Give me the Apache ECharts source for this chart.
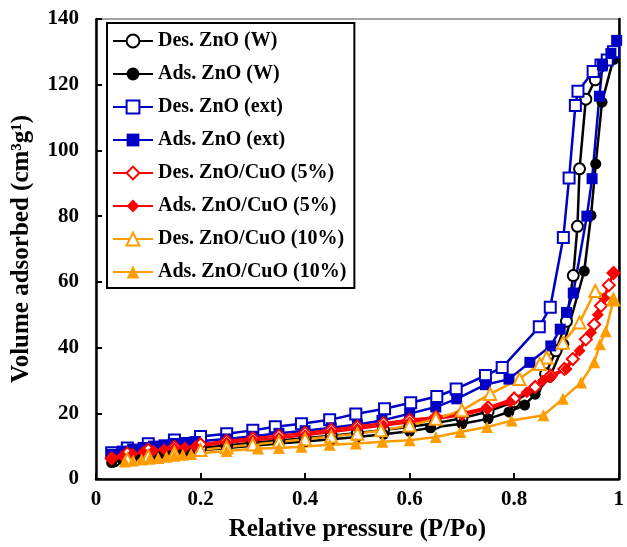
<!DOCTYPE html>
<html>
<head>
<meta charset="utf-8">
<script src="https://cdn.jsdelivr.net/npm/echarts@6/dist/echarts.min.js"></script>
<style>
  html, body { margin: 0; padding: 0; background: #fff; }
  #chart { width: 627px; height: 547px; }
</style>
</head>
<body>
<div id="chart"></div>
<script>
// N2 sorption isotherms: [relative pressure P/Po, volume adsorbed cm3/g]
const desZnOW = [[0.99,128],[0.955,121.5],[0.937,115.6],[0.925,94.4],[0.921,76.9],[0.913,61.9],[0.90,48],[0.88,39],[0.86,32],[0.84,27.5],[0.80,23.5],[0.75,20.5],[0.70,18.5],[0.65,17],[0.60,15.9],[0.55,14.9],[0.50,14],[0.45,13.2],[0.40,12.4],[0.35,11.7],[0.30,11],[0.25,10.2],[0.20,9.4],[0.15,8.6],[0.10,7.6],[0.06,6.6],[0.035,5.5]];
const adsZnOW = [[0.03,5.0],[0.05,5.9],[0.07,6.5],[0.09,7.0],[0.11,7.4],[0.13,7.7],[0.15,8.0],[0.17,8.3],[0.19,8.6],[0.25,9.4],[0.30,10.1],[0.35,10.8],[0.40,11.4],[0.45,12.1],[0.50,12.8],[0.55,13.6],[0.60,14.5],[0.64,15.6],[0.70,16.8],[0.75,18.3],[0.79,20.4],[0.82,22.5],[0.84,25.8],[0.868,31.0],[0.895,41],[0.934,63.3],[0.947,80.2],[0.956,95.9],[0.968,114.7],[0.99,128]];
const desZnOExt = [[0.99,130],[0.978,127.5],[0.966,126],[0.951,124],[0.922,118],[0.917,113.7],[0.905,91.6],[0.894,73.5],[0.869,52.3],[0.848,46.3],[0.777,33.9],[0.745,31.5],[0.689,27.4],[0.652,25.1],[0.602,23.2],[0.552,21.4],[0.497,19.8],[0.447,18],[0.393,16.8],[0.343,15.9],[0.30,14.8],[0.25,13.8],[0.20,12.9],[0.15,11.9],[0.10,10.7],[0.06,9.4],[0.03,8.0]];
const adsZnOExt = [[0.03,7.5],[0.05,8.5],[0.07,9.1],[0.09,9.6],[0.11,10.0],[0.13,10.4],[0.15,10.8],[0.17,11.1],[0.19,11.4],[0.25,12.2],[0.30,13.0],[0.35,13.9],[0.40,14.7],[0.45,15.6],[0.50,16.6],[0.547,17.8],[0.60,19.9],[0.65,21.9],[0.69,24.4],[0.745,28.7],[0.79,30.4],[0.83,35.5],[0.87,40.5],[0.888,45.6],[0.90,50.7],[0.913,56.6],[0.939,80],[0.949,91.4],[0.963,116.5],[0.969,126],[0.985,129.5],[0.996,133.5]];
const desCu5 = [[0.99,62.7],[0.981,59],[0.966,52.7],[0.953,47],[0.937,42.5],[0.912,36.5],[0.896,33.5],[0.87,31.5],[0.84,28],[0.80,24.5],[0.75,21.8],[0.70,20],[0.65,18.8],[0.60,18],[0.55,17],[0.50,16],[0.45,15],[0.40,14],[0.35,13.2],[0.30,12.4],[0.25,11.6],[0.20,10.6],[0.15,9.8],[0.10,8.9],[0.06,7.8],[0.03,6.3]];
const adsCu5 = [[0.03,6.0],[0.05,7.0],[0.07,7.7],[0.09,8.2],[0.11,8.6],[0.13,9.0],[0.15,9.3],[0.17,9.6],[0.19,9.9],[0.25,11.0],[0.30,11.8],[0.35,12.5],[0.40,13.3],[0.45,14.3],[0.50,15.3],[0.55,16.3],[0.60,17.3],[0.65,18.3],[0.70,19.4],[0.748,21.3],[0.792,23.4],[0.824,26.4],[0.855,30],[0.87,31],[0.90,33.5],[0.925,39],[0.947,44.6],[0.96,50],[0.972,55],[0.99,62.7]];
const desCu10 = [[0.99,54.6],[0.955,57.2],[0.925,47.6],[0.893,41.5],[0.862,37],[0.849,35],[0.81,30.4],[0.754,25.9],[0.70,20.9],[0.65,18.3],[0.60,16.3],[0.545,14.8],[0.50,13.8],[0.45,12.9],[0.40,12.1],[0.35,11.3],[0.30,10.5],[0.25,9.7],[0.20,8.8],[0.15,8.0],[0.10,7.0],[0.06,6.0]];
const adsCu10 = [[0.055,5.3],[0.071,5.6],[0.087,5.9],[0.103,6.2],[0.119,6.4],[0.135,6.8],[0.15,7.1],[0.166,7.4],[0.182,7.6],[0.25,8.5],[0.31,9.3],[0.35,9.4],[0.393,9.8],[0.447,10.4],[0.497,10.8],[0.548,11.3],[0.60,11.8],[0.65,12.8],[0.697,14.3],[0.748,15.8],[0.795,17.8],[0.856,19.4],[0.893,24.4],[0.928,29.4],[0.953,35.5],[0.964,41],[0.975,45],[0.99,54.6]];

const xTicks = ['0', '0.2', '0.4', '0.6', '0.8', '1'];

const FONT = '"Liberation Serif", "Times New Roman", serif';

function mk(name, data, color, symbol, size) {
  const hollow = symbol.indexOf('empty') === 0;
  return {
    name: name,
    type: 'line',
    data: data,
    symbol: symbol,
    symbolSize: size,
    lineStyle: { color: color, width: 2.5 },
    itemStyle: { color: color, borderWidth: hollow ? 2.2 : 0 },
    emphasis: { disabled: true },
    animation: false,
    z: 3
  };
}

const chart = echarts.init(document.getElementById('chart'));
chart.setOption({
  backgroundColor: '#fff',
  animation: false,
  grid: { left: 96, right: 4, top: 19, bottom: 64, show: true, borderColor: '#444', borderWidth: 1 },
  legend: {
    orient: 'vertical',
    left: 107, top: 23,
    padding: [7, 8, 5, 5],
    borderColor: '#000', borderWidth: 2,
    backgroundColor: '#fff',
    itemWidth: 40, itemHeight: 16, itemGap: 11,
    textStyle: { fontFamily: FONT, fontWeight: 'bold', fontSize: 20, color: '#000', lineHeight: 22 },
    selectedMode: false
  },
  xAxis: {
    type: 'value', min: 0, max: 1, interval: 0.2,
    name: 'Relative pressure (P/Po)', nameLocation: 'middle', nameGap: 38,
    nameTextStyle: { fontFamily: FONT, fontWeight: 'bold', fontSize: 25, color: '#000' },
    axisLine: { lineStyle: { color: '#000', width: 2.5 } },
    axisTick: { inside: true, length: 6, lineStyle: { color: '#000', width: 2 } },
    axisLabel: { fontFamily: FONT, fontWeight: 'bold', fontSize: 21, color: '#000', margin: 10,
      formatter: function (v) { return xTicks[Math.round(v / 0.2)]; } },
    splitLine: { show: false }
  },
  yAxis: [{
    type: 'value', min: 0, max: 140, interval: 20,
    name: 'Volume adsorbed (cm³g¹)', nameLocation: 'middle', nameGap: 62,
    nameTextStyle: { fontFamily: FONT, fontWeight: 'bold', fontSize: 25, color: '#000' },
    axisLine: { show: true, lineStyle: { color: '#000', width: 2.5 } },
    axisTick: { show: true, inside: true, length: 6, lineStyle: { color: '#000', width: 2 } },
    axisLabel: { fontFamily: FONT, fontWeight: 'bold', fontSize: 21, color: '#000', margin: 17 },
    splitLine: { show: false }
  }, {
    type: 'value', min: 0, max: 140, position: 'right',
    axisLine: { show: true, lineStyle: { color: '#000', width: 2.5 } },
    axisTick: { show: false }, axisLabel: { show: false }, splitLine: { show: false }
  }],
  series: [
    mk('Des. ZnO (W)', desZnOW, '#000000', 'emptyCircle', 11),
    mk('Ads. ZnO (W)', adsZnOW, '#000000', 'circle', 11),
    mk('Des. ZnO (ext)', desZnOExt, '#0000c4', 'emptyRect', 11),
    mk('Ads. ZnO (ext)', adsZnOExt, '#0000c4', 'rect', 11),
    mk('Des. ZnO/CuO (5%)', desCu5, '#ff0000', 'emptyDiamond', 12),
    mk('Ads. ZnO/CuO (5%)', adsCu5, '#ff0000', 'diamond', 12),
    mk('Des. ZnO/CuO (10%)', desCu10, '#ff9c00', 'emptyTriangle', 12),
    mk('Ads. ZnO/CuO (10%)', adsCu10, '#ff9c00', 'triangle', 12)
  ]
});
</script>
</body>
</html>
